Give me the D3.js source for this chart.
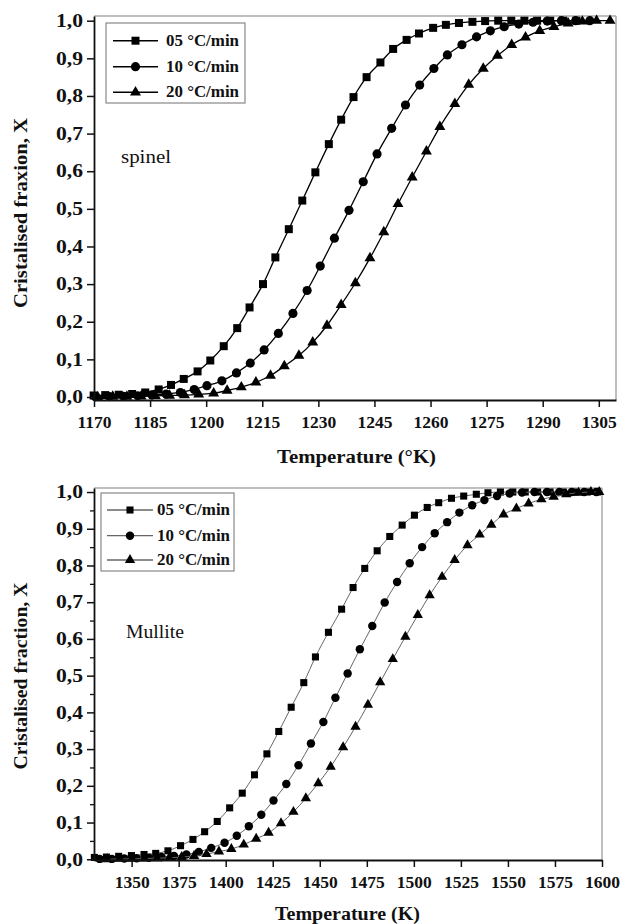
<!DOCTYPE html>
<html><head><meta charset="utf-8">
<script src="https://cdn.jsdelivr.net/npm/d3@7"></script>
<style>
body{margin:0;background:#fff}
svg text{font-family:"Liberation Serif","Times New Roman",serif;fill:#111}
</style>
</head><body><script>
// ---------------- DATA ----------------
const seriesLabels = ["05 °C/min", "10 °C/min", "20 °C/min"];

// Spinel (top panel)
const spinelT05 = [1169.9,1173.0,1176.6,1180.2,1183.7,1187.3,1190.6,1194.0,1197.7,1201.1,1204.7,1208.3,1211.6,1215.2,1218.5,1222.1,1225.7,1229.2,1232.8,1236.1,1239.4,1242.9,1246.6,1250.0,1253.6,1256.9,1260.7,1264.1,1267.6,1271.2,1274.6,1278.1,1281.6,1285.1,1288.5,1292.0,1295.5,1299.0];
const spinelX05 = [0.004,0.005,0.006,0.008,0.012,0.020,0.032,0.048,0.068,0.097,0.135,0.183,0.238,0.300,0.371,0.446,0.522,0.597,0.672,0.737,0.797,0.850,0.889,0.925,0.949,0.966,0.981,0.989,0.994,0.997,0.999,1.0,1.0,1.0,1.0,1.0,1.0,1.0];
const spinelT10 = [1170.3,1174.1,1177.9,1181.7,1185.5,1189.3,1193.1,1196.8,1200.2,1204.2,1208.1,1211.8,1215.5,1219.3,1223.2,1227.0,1230.5,1234.3,1238.2,1242.0,1245.7,1249.6,1253.3,1257.1,1260.9,1264.5,1268.4,1272.3,1276.0,1279.7,1283.6,1287.4,1291.2,1295.0,1298.8,1302.6];
const spinelX10 = [0.001,0.001,0.002,0.003,0.005,0.008,0.012,0.020,0.030,0.043,0.064,0.090,0.125,0.169,0.222,0.283,0.348,0.422,0.496,0.572,0.646,0.714,0.776,0.829,0.873,0.909,0.936,0.957,0.973,0.984,0.991,0.996,0.999,1.0,1.0,1.0];
const spinelT20 = [1171.0,1175.0,1178.8,1182.6,1186.4,1190.2,1194.2,1198.0,1202.0,1205.6,1209.4,1213.3,1217.2,1220.9,1224.8,1228.5,1232.3,1236.1,1239.9,1243.8,1247.5,1251.3,1255.1,1258.9,1262.5,1266.5,1270.2,1274.1,1277.9,1281.7,1285.4,1289.2,1293.0,1296.8,1300.6,1304.4,1308.0];
const spinelX20 = [0.0,0.001,0.001,0.002,0.003,0.004,0.005,0.007,0.010,0.017,0.026,0.039,0.057,0.082,0.110,0.145,0.190,0.245,0.303,0.369,0.438,0.513,0.584,0.653,0.718,0.779,0.830,0.873,0.907,0.936,0.956,0.973,0.984,0.993,0.998,1.0,1.0];

// Mullite (bottom panel)
const mulliteT05 = [1330.2,1336.6,1343.1,1349.9,1356.6,1362.8,1369.3,1376.0,1382.6,1388.8,1395.5,1402.1,1408.8,1415.3,1421.9,1428.2,1434.8,1441.5,1447.7,1454.6,1461.6,1467.7,1473.9,1480.5,1487.2,1493.8,1500.3,1507.1,1513.2,1520.0,1526.5,1533.2,1539.4,1546.0,1552.6,1559.2,1565.8,1572.4,1579.0,1585.6,1592.2,1597.5];
const mulliteX05 = [0.005,0.006,0.008,0.010,0.013,0.016,0.023,0.037,0.054,0.075,0.103,0.140,0.180,0.230,0.287,0.348,0.414,0.481,0.551,0.618,0.681,0.740,0.792,0.840,0.879,0.910,0.937,0.958,0.971,0.983,0.989,0.994,0.998,1.0,1.0,1.0,1.0,1.0,1.0,1.0,1.0,1.0];
const mulliteT10 = [1333.0,1339.5,1346.1,1352.7,1359.3,1365.9,1372.5,1379.1,1385.7,1392.3,1399.4,1405.9,1412.3,1418.9,1425.4,1432.2,1438.7,1445.3,1451.9,1458.3,1464.8,1471.3,1477.9,1484.5,1491.1,1497.8,1504.4,1511.1,1517.7,1524.2,1531.0,1537.5,1544.2,1550.9,1557.5,1564.1,1570.7,1577.3,1583.9,1590.5,1597.0];
const mulliteX10 = [0.001,0.001,0.002,0.003,0.004,0.006,0.009,0.013,0.020,0.031,0.045,0.064,0.090,0.121,0.160,0.205,0.256,0.315,0.374,0.440,0.506,0.572,0.635,0.699,0.755,0.806,0.850,0.888,0.918,0.944,0.964,0.978,0.989,0.996,0.999,1.0,1.0,1.0,1.0,1.0,1.0];
const mulliteT20 = [1337.0,1343.6,1350.2,1356.8,1363.4,1370.0,1376.6,1383.2,1389.8,1396.4,1403.0,1409.6,1416.2,1422.8,1429.4,1436.0,1442.6,1449.2,1455.8,1462.4,1469.0,1475.6,1482.1,1488.8,1495.5,1502.1,1508.4,1515.0,1521.7,1528.5,1535.0,1541.2,1547.7,1554.5,1561.0,1567.8,1574.3,1581.0,1587.6,1594.1,1598.5];
const mulliteX20 = [0.0,0.001,0.001,0.002,0.003,0.004,0.006,0.009,0.014,0.021,0.028,0.040,0.056,0.072,0.098,0.129,0.166,0.207,0.252,0.305,0.361,0.421,0.482,0.545,0.606,0.665,0.719,0.769,0.815,0.855,0.884,0.911,0.939,0.955,0.969,0.980,0.987,0.994,0.998,1.0,1.0];

// Tick labels
const spinelTicksX = [1170,1185,1200,1215,1230,1245,1260,1275,1290,1305];
const mulliteTicksX = [1350,1375,1400,1425,1450,1475,1500,1525,1550,1575,1600];
const ticksY = [0,0.1,0.2,0.3,0.4,0.5,0.6,0.7,0.8,0.9,1.0];
const minorTicksY = [0.05,0.15,0.25,0.35,0.45,0.55,0.65,0.75,0.85,0.95];

// ---------------- DRAW ----------------
const svg = d3.select("body").append("svg").attr("width", 620).attr("height", 924);
const symbols = [d3.symbolSquare, d3.symbolCircle, d3.symbolTriangle];
const fmt = v => d3.format(".1f")(v).replace(".", ",");

function panel(o) {
  const x = d3.scaleLinear().domain(o.xDomain).range([o.left, o.right]);
  const y = d3.scaleLinear().domain(o.yDomain).range([o.bottom, o.top]);
  const g = svg.append("g");

  // top/right frame (light)
  g.append("line").attr("x1", o.left).attr("x2", o.right).attr("y1", o.top).attr("y2", o.top)
    .attr("stroke", "#aaa").attr("stroke-width", 1.5);
  g.append("line").attr("x1", o.right).attr("x2", o.right).attr("y1", o.top).attr("y2", o.bottom)
    .attr("stroke", "#aaa").attr("stroke-width", 1.5);

  // series
  o.series.forEach((s, i) => {
    const pts = s.T.map((t, k) => [t, s.X[k]]);
    g.append("path").datum(pts)
      .attr("fill", "none").attr("stroke", o.lineColor).attr("stroke-width", o.lineWidth)
      .attr("d", d3.line().x(d => x(d[0])).y(d => y(d[1])).curve(d3.curveMonotoneX));
    g.selectAll(null).data(pts).enter().append("path")
      .attr("transform", d => `translate(${x(d[0])},${y(d[1])})`)
      .attr("d", d3.symbol().type(symbols[i]).size(o.symSizes[i]))
      .attr("fill", "#000");
  });

  // axes
  const ax = g.append("g").attr("transform", `translate(0,${o.bottom})`)
    .call(d3.axisBottom(x).tickValues(o.xTicks).tickFormat(d3.format("d")).tickSize(7).tickSizeOuter(0).tickPadding(9));
  ax.select(".domain").attr("stroke", "#111").attr("stroke-width", 1.8);
  ax.selectAll(".tick line").attr("stroke", "#111").attr("stroke-width", 1.5);
  ax.selectAll("text").attr("font-size", 17.5).attr("font-weight", "bold")
    .style("font-family", '"Liberation Serif",serif').attr("fill", "#111");

  if (o.minorY) {
    g.append("g").attr("transform", `translate(${o.left},0)`)
      .call(d3.axisLeft(y).tickValues(minorTicksY).tickSize(4).tickSizeOuter(0).tickFormat(""))
      .call(a => a.select(".domain").remove())
      .selectAll(".tick line").attr("stroke", "#111").attr("stroke-width", 1.3);
  }
  const ay = g.append("g").attr("transform", `translate(${o.left},0)`)
    .call(d3.axisLeft(y).tickValues(ticksY).tickFormat(fmt).tickSize(7).tickSizeOuter(0).tickPadding(3));
  ay.select(".domain").attr("stroke", "#111").attr("stroke-width", 1.8);
  ay.selectAll(".tick line").attr("stroke", "#111").attr("stroke-width", 1.5);
  ay.selectAll("text").attr("font-size", 18).attr("font-weight", "bold")
    .style("font-family", '"Liberation Serif",serif').attr("fill", "#111")
    .attr("text-anchor", "start").attr("x", -38).attr("textLength", 27)
    .attr("lengthAdjust", "spacingAndGlyphs");

  // axis titles
  g.append("text").attr("x", o.xTitle.x).attr("y", o.xTitle.y)
    .attr("font-size", 18).attr("font-weight", "bold")
    .attr("textLength", o.xTitle.len).attr("lengthAdjust", "spacingAndGlyphs")
    .text(o.xTitle.text);
  g.append("text").attr("transform", `translate(${o.yTitle.x},${o.yTitle.cy}) rotate(-90)`)
    .attr("x", -o.yTitle.len / 2).attr("y", 0)
    .attr("font-size", 19).attr("font-weight", "bold")
    .attr("textLength", o.yTitle.len).attr("lengthAdjust", "spacingAndGlyphs")
    .text(o.yTitle.text);

  // annotation
  g.append("text").attr("x", o.note.x).attr("y", o.note.y)
    .attr("font-size", o.note.size)
    .attr("textLength", o.note.len).attr("lengthAdjust", "spacingAndGlyphs")
    .text(o.note.text);

  // legend
  const L = o.legend;
  g.append("rect").attr("x", L.x).attr("y", L.y).attr("width", L.w).attr("height", L.h)
    .attr("fill", "#fff").attr("stroke", "#888").attr("stroke-width", 1.2);
  seriesLabels.forEach((lab, i) => {
    const cy = L.rows[i];
    g.append("line").attr("x1", L.lx1).attr("x2", L.lx2).attr("y1", cy).attr("y2", cy)
      .attr("stroke", o.lineColor).attr("stroke-width", o.lineWidth + 0.3);
    g.append("path").attr("transform", `translate(${(L.lx1 + L.lx2) / 2},${cy})`)
      .attr("d", d3.symbol().type(symbols[i]).size(o.symSizes[i])).attr("fill", "#000");
    g.append("text").attr("x", L.tx).attr("y", cy + 5)
      .attr("font-size", 16).attr("font-weight", "bold")
      .attr("textLength", L.tlen).attr("lengthAdjust", "spacingAndGlyphs")
      .text(lab);
  });
}

panel({
  xDomain: [1170, 1309.6], yDomain: [-0.008, 1.0125],
  left: 94, right: 616, top: 16, bottom: 400,
  xTicks: spinelTicksX, minorY: false,
  lineColor: "#000", lineWidth: 1.3, symSizes: [64, 66, 52],
  series: [{T: spinelT05, X: spinelX05}, {T: spinelT10, X: spinelX10}, {T: spinelT20, X: spinelX20}],
  xTitle: {text: "Temperature (°K)", x: 277, y: 463, len: 159},
  yTitle: {text: "Cristalised fraxion, X", x: 27, cy: 213, len: 190},
  note: {text: "spinel", x: 121, y: 163, size: 18, len: 50},
  legend: {x: 106, y: 23, w: 139, h: 80, rows: [40.7, 66.7, 92.3], lx1: 113, lx2: 158, tx: 166, tlen: 73}
});

panel({
  xDomain: [1330, 1600], yDomain: [-0.002, 1.011],
  left: 94, right: 602, top: 488, bottom: 860,
  xTicks: mulliteTicksX, minorY: true,
  lineColor: "#666", lineWidth: 1.0, symSizes: [50, 56, 46],
  series: [{T: mulliteT05, X: mulliteX05}, {T: mulliteT10, X: mulliteX10}, {T: mulliteT20, X: mulliteX20}],
  xTitle: {text: "Temperature (K)", x: 275, y: 920, len: 145},
  yTitle: {text: "Cristalised fraction, X", x: 27, cy: 676, len: 187},
  note: {text: "Mullite", x: 126, y: 638, size: 18.5, len: 58},
  legend: {x: 101, y: 493, w: 133, h: 78, rows: [510, 535.7, 560], lx1: 107, lx2: 153, tx: 157, tlen: 73}
});
</script></body></html>
